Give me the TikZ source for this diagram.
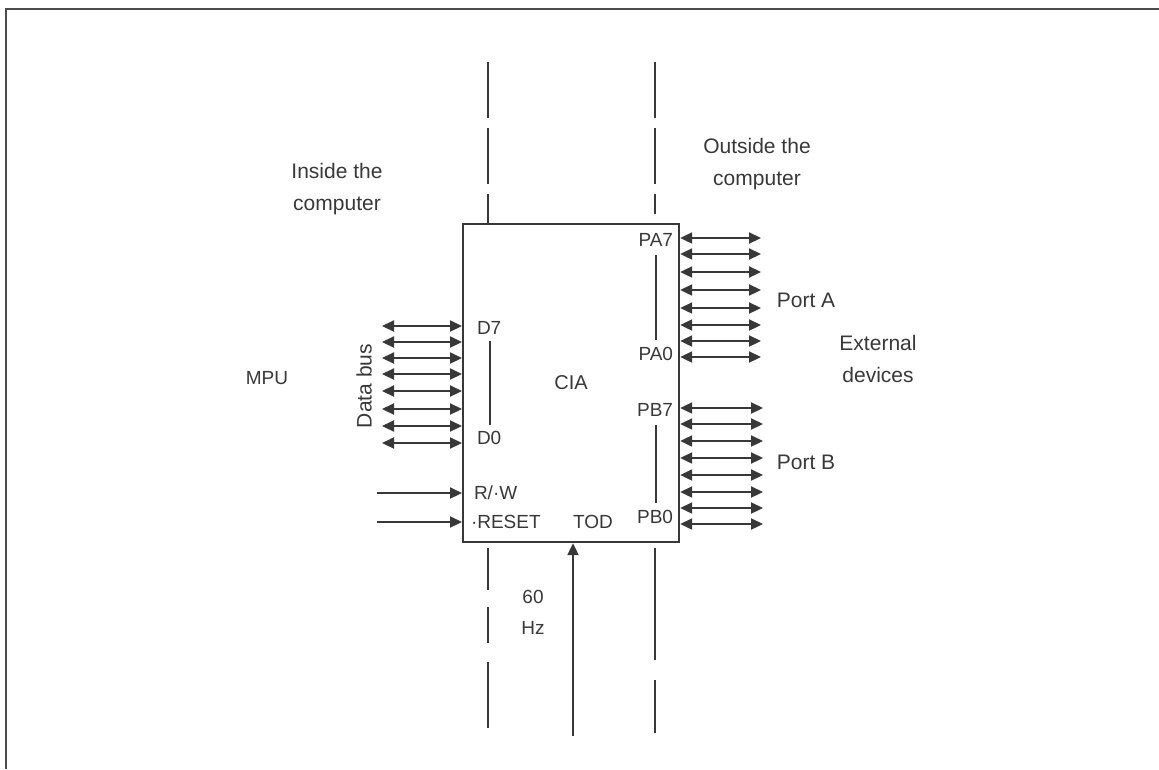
\documentclass[tikz,border=0pt]{standalone}
\usepackage{fontspec}
\setmainfont{Liberation Sans}
\usetikzlibrary{arrows.meta}
\tikzset{
  ink/.style={black!78},
  lbl/.style={ink, inner sep=1pt, font=\fontsize{19}{31}\selectfont, align=center},
  txt/.style={lbl, font=\fontsize{21}{32}\selectfont},
  bus/.style={{Triangle[length=12pt,width=11pt]}-{Triangle[length=12pt,width=11pt]}, ink, line width=2.2pt},
  sig/.style={-{Triangle[length=12pt,width=11pt]}, ink, line width=2.2pt},
  border/.style={ink, line width=2pt, dash pattern=on 56pt off 10pt}
}
\begin{document}
\begin{tikzpicture}[x=1pt,y=-1pt,line width=2pt]
\useasboundingbox (0,0) rectangle (1159,769);
% frame
\draw[black!70, line width=2.5pt] (6,769) -- (6,9) -- (1159,9);
% the CIA chip
\node[draw, ink, line width=2.2pt, anchor=north west, minimum width=216pt, minimum height=318pt, inner sep=0pt, font=\fontsize{20}{24}\selectfont] (cia) at (462,223) {CIA};
% inside / outside borders
\coordinate (lt) at (488,62);
\coordinate (lb) at (488,728);
\coordinate (rt) at (655,62);
\coordinate (rb) at (655,733);
\draw[border] (lt) -- (lt |- cia.north);
\draw[border] (rt) -- (655,214);
\draw[ink, line width=2pt, dash pattern=on 42pt off 17pt on 36pt off 19pt on 80pt off 10pt] (488,548) -- (lb);
\draw[ink, line width=2pt, dash pattern=on 112pt off 20pt on 80pt off 10pt] (655,548) -- (rb);
% labels
\node[txt] (inside) at (337,189) {Inside the\\computer};
\node[txt] (outside) at (757,164) {Outside the\\computer};
\node[lbl] (mpu) at (267,378) {MPU};
\node[txt, rotate=90] (databus) at (364,386) {Data bus};
\node[txt] (ext) at (878,359) {External\\devices};
\node[txt] (porta) at (806,300) {Port A};
\node[txt] (portb) at (806,462) {Port B};
\node[lbl] (hz) at (533,612) {60\\Hz};
% pin names
\node[lbl, anchor=west] (d7) at (475,328) {D7};
\node[lbl, anchor=west] (d0) at (475,438) {D0};
\node[lbl, anchor=east] (pa7) at (675,240) {PA7};
\node[lbl, anchor=east] (pa0) at (675,354) {PA0};
\node[lbl, anchor=east] (pb7) at (675,410) {PB7};
\node[lbl, anchor=east] (pb0) at (675,517) {PB0};
\node[lbl, anchor=west] (rw) at (472,493) {R/·W};
\node[lbl, anchor=west] (reset) at (469,522) {·RESET};
\node[lbl] (tod) at (593,522) {TOD};
\draw[ink, line width=1.6pt] (490,341) -- (490,425);
\draw[ink, line width=1.6pt] (656,255) -- (656,340);
\draw[ink, line width=1.6pt] (656,425) -- (656,503);
% data bus D7..D0
\foreach \y [count=\i] in {326,342,358,374,391,409,426,443} {
  \coordinate (m\i) at (382,\y);
  \coordinate (d\i) at (cia.west |- 0,\y);
  \draw[bus] (m\i) -- (d\i);
}
% port A
\foreach \y [count=\i] in {238,254,272,290,308,325,341,357} {
  \coordinate (a\i) at (cia.east |- 0,\y);
  \coordinate (x\i) at (761,\y);
  \draw[bus] (a\i) -- (x\i);
}
% port B
\foreach \y [count=\i] in {408,424,441,458,475,492,508,524} {
  \coordinate (b\i) at (cia.east |- 0,\y);
  \coordinate (y\i) at (763,\y);
  \draw[bus] (b\i) -- (y\i);
}
% control lines
\coordinate (rwin) at (377,493);
\coordinate (resetin) at (377,522);
\coordinate (clock) at (573,736);
\draw[sig] (rwin) -- (rwin -| cia.west);
\draw[sig] (resetin) -- (resetin -| cia.west);
\draw[sig] (clock) -- (clock |- cia.south);
\end{tikzpicture}
\end{document}
